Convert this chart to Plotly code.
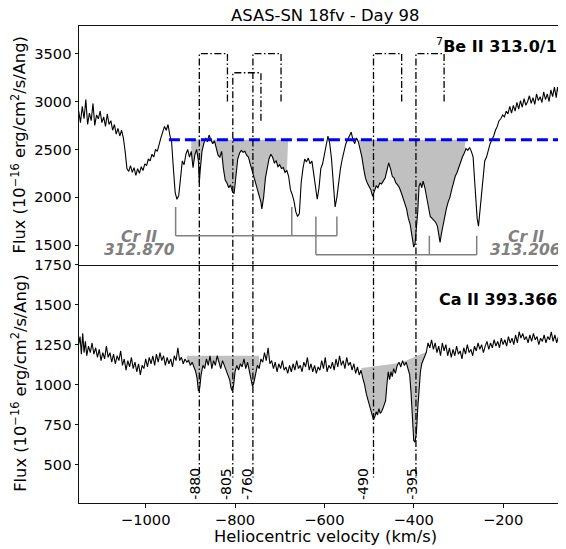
import plotly.graph_objects as go

# ---------------- data ----------------
# Be II 313.0/1 spectrum (velocity km/s, flux 1e-16 erg/cm2/s/Ang)
be_spec = [
    (-1150, 2900), (-1146, 2780), (-1142, 2950), (-1138, 2820), (-1134, 3020), (-1130, 2760),
    (-1126, 2880), (-1122, 2800), (-1118, 2980), (-1114, 2750), (-1110, 2860), (-1106, 2820),
    (-1102, 2900), (-1098, 2780), (-1094, 2840), (-1090, 2740), (-1086, 2870), (-1082, 2760),
    (-1078, 2800), (-1074, 2700), (-1070, 2760), (-1066, 2660), (-1062, 2720), (-1058, 2640),
    (-1054, 2700), (-1050, 2620), (-1046, 2480), (-1042, 2300), (-1038, 2270), (-1034, 2330),
    (-1030, 2260), (-1026, 2310), (-1022, 2230), (-1018, 2300), (-1014, 2250), (-1010, 2320),
    (-1006, 2280), (-1002, 2350), (-998, 2330), (-994, 2400), (-990, 2380), (-986, 2450),
    (-982, 2420), (-978, 2500), (-974, 2480), (-970, 2560), (-966, 2620), (-962, 2680),
    (-958, 2740), (-954, 2700), (-950, 2760), (-946, 2650), (-942, 2580), (-938, 2300),
    (-934, 2050), (-930, 1980), (-926, 2020), (-922, 2200), (-918, 2380), (-914, 2340),
    (-910, 2450), (-906, 2500), (-902, 2420), (-898, 2480), (-894, 2310), (-890, 2440),
    (-886, 2500), (-882, 2380), (-880, 2150), (-878, 2280), (-874, 2480), (-870, 2560),
    (-866, 2620), (-862, 2580), (-858, 2650), (-854, 2600), (-850, 2560), (-846, 2590),
    (-842, 2520), (-838, 2440), (-834, 2420), (-830, 2480), (-826, 2300), (-822, 2180),
    (-818, 2150), (-814, 2100), (-810, 2130), (-806, 2060), (-802, 2040), (-798, 2250),
    (-794, 2400), (-790, 2460), (-786, 2490), (-782, 2470), (-778, 2480), (-774, 2440),
    (-770, 2420), (-766, 2350), (-762, 2280), (-758, 2220), (-754, 2160), (-750, 2100),
    (-746, 2020), (-742, 1950), (-740, 1880), (-736, 2000), (-732, 2200), (-728, 2290),
    (-724, 2400), (-720, 2450), (-716, 2420), (-712, 2360), (-708, 2380), (-704, 2320),
    (-700, 2340), (-696, 2300), (-692, 2310), (-688, 2260), (-684, 2280), (-680, 2220),
    (-676, 2080), (-672, 2030), (-668, 1960), (-664, 1850), (-660, 1800), (-656, 1830),
    (-652, 2150), (-648, 2300), (-644, 2400), (-640, 2370), (-636, 2410), (-632, 2350),
    (-628, 2380), (-624, 2250), (-620, 2100), (-616, 1980), (-612, 2100), (-608, 2300),
    (-604, 2350), (-600, 2450), (-596, 2560), (-592, 2640), (-588, 2560), (-584, 2400),
    (-580, 2150), (-576, 1900), (-572, 2000), (-568, 2180), (-564, 2300), (-560, 2400),
    (-556, 2480), (-552, 2560), (-548, 2600), (-544, 2650), (-540, 2680), (-536, 2600),
    (-532, 2560), (-528, 2620), (-524, 2580), (-520, 2500), (-516, 2420), (-512, 2300),
    (-508, 2200), (-504, 2150), (-500, 2120), (-496, 2080), (-492, 2010), (-488, 2080),
    (-484, 2120), (-480, 2100), (-476, 2150), (-472, 2140), (-468, 2170), (-464, 2200),
    (-460, 2280), (-456, 2360), (-452, 2300), (-448, 2220), (-444, 2200), (-440, 2150),
    (-436, 2130), (-432, 2100), (-428, 2050), (-424, 2000), (-420, 1950), (-416, 1880),
    (-412, 1780), (-408, 1720), (-404, 1600), (-400, 1480), (-397, 1520), (-394, 1650),
    (-391, 1850), (-388, 2120), (-385, 2150), (-382, 2100), (-379, 2170), (-375, 2100),
    (-371, 2000), (-367, 1900), (-363, 1800), (-359, 1780), (-355, 1760), (-351, 1740),
    (-347, 1700), (-344, 1600), (-341, 1530), (-338, 1620), (-335, 1700), (-331, 1800),
    (-327, 1880), (-323, 1950), (-319, 2000), (-315, 2080), (-311, 2150), (-307, 2220),
    (-303, 2260), (-299, 2320), (-295, 2380), (-291, 2420), (-287, 2460), (-283, 2510),
    (-279, 2490), (-275, 2520), (-271, 2480), (-267, 2420), (-264, 2200), (-261, 1950),
    (-258, 1780), (-255, 1700), (-252, 1850), (-249, 2050), (-245, 2250), (-241, 2380),
    (-237, 2420), (-233, 2500), (-229, 2560), (-225, 2600), (-221, 2640), (-217, 2700),
    (-213, 2740), (-209, 2800), (-205, 2820), (-201, 2860), (-197, 2840), (-193, 2900),
    (-189, 2870), (-185, 2950), (-181, 2880), (-177, 2960), (-173, 2900), (-169, 2990),
    (-165, 2920), (-161, 3010), (-157, 2940), (-153, 3030), (-149, 2960), (-145, 3000),
    (-141, 3060), (-137, 2980), (-133, 3040), (-129, 2970), (-125, 3080), (-121, 3010),
    (-117, 3050), (-113, 2990), (-109, 3100), (-105, 3020), (-101, 3080), (-97, 3000),
    (-93, 3120), (-89, 3050), (-85, 3150), (-81, 3040), (-78, 3150), (-74, 3060),
    (-70, 3220), (-67, 3020), (-63, 3100), (-59, 3050), (-55, 3120),
]

# Ca II 393.366 spectrum
ca_spec = [
    (-1150, 1250), (-1147, 1300), (-1144, 1190), (-1141, 1320), (-1138, 1200), (-1135, 1270),
    (-1132, 1180), (-1128, 1240), (-1124, 1200), (-1120, 1260), (-1116, 1190), (-1112, 1230),
    (-1108, 1170), (-1104, 1220), (-1100, 1150), (-1096, 1200), (-1092, 1160), (-1088, 1240),
    (-1084, 1170), (-1080, 1200), (-1076, 1140), (-1072, 1190), (-1068, 1130), (-1064, 1180),
    (-1060, 1150), (-1056, 1210), (-1052, 1120), (-1048, 1160), (-1044, 1090), (-1040, 1150),
    (-1036, 1110), (-1032, 1170), (-1028, 1100), (-1024, 1140), (-1020, 1080), (-1016, 1130),
    (-1012, 1060), (-1008, 1120), (-1004, 1100), (-1000, 1160), (-996, 1110), (-992, 1170),
    (-988, 1130), (-984, 1180), (-980, 1120), (-976, 1190), (-972, 1140), (-968, 1200),
    (-964, 1150), (-960, 1180), (-956, 1120), (-952, 1170), (-948, 1130), (-944, 1160),
    (-940, 1110), (-936, 1180), (-932, 1150), (-928, 1230), (-924, 1150), (-920, 1170),
    (-916, 1130), (-912, 1160), (-908, 1140), (-904, 1150), (-900, 1120), (-896, 1140),
    (-892, 1110), (-888, 1080), (-885, 1040), (-882, 960), (-879, 980), (-876, 1060),
    (-872, 1120), (-868, 1100), (-864, 1160), (-860, 1120), (-856, 1180), (-852, 1100),
    (-848, 1150), (-844, 1120), (-840, 1180), (-836, 1130), (-832, 1100), (-828, 1150),
    (-824, 1120), (-820, 1090), (-816, 1060), (-812, 1030), (-809, 980), (-806, 960),
    (-803, 1000), (-800, 1080), (-796, 1120), (-792, 1090), (-788, 1130), (-784, 1110),
    (-780, 1160), (-776, 1100), (-772, 1140), (-768, 1080), (-764, 1040), (-761, 990),
    (-758, 1010), (-754, 1060), (-750, 1120), (-746, 1100), (-742, 1160), (-738, 1140),
    (-734, 1200), (-730, 1150), (-726, 1230), (-722, 1130), (-718, 1150), (-714, 1100),
    (-710, 1140), (-706, 1080), (-702, 1130), (-698, 1100), (-694, 1150), (-690, 1090),
    (-686, 1110), (-682, 1070), (-678, 1120), (-674, 1080), (-670, 1130), (-666, 1090),
    (-662, 1150), (-658, 1100), (-654, 1120), (-650, 1080), (-646, 1140), (-642, 1110),
    (-638, 1170), (-634, 1090), (-630, 1130), (-626, 1080), (-622, 1120), (-618, 1070),
    (-614, 1110), (-610, 1090), (-606, 1150), (-602, 1100), (-598, 1170), (-594, 1080),
    (-590, 1120), (-586, 1100), (-582, 1140), (-578, 1090), (-574, 1160), (-570, 1110),
    (-566, 1180), (-562, 1120), (-558, 1150), (-554, 1100), (-550, 1170), (-546, 1120),
    (-542, 1140), (-538, 1090), (-534, 1130), (-530, 1070), (-526, 1110), (-522, 1060),
    (-518, 1090), (-514, 1040), (-510, 1000), (-506, 940), (-502, 900), (-499, 860),
    (-496, 830), (-493, 800), (-490, 780), (-487, 800), (-484, 830), (-481, 810),
    (-478, 850), (-475, 820), (-472, 830), (-469, 850), (-466, 870), (-463, 900),
    (-460, 1000), (-457, 1080), (-454, 1030), (-451, 1080), (-448, 1050), (-445, 1100),
    (-441, 1070), (-437, 1120), (-433, 1140), (-429, 1110), (-425, 1150), (-421, 1120),
    (-417, 1140), (-413, 1100), (-409, 1060), (-406, 950), (-403, 780), (-400, 650),
    (-397, 640), (-394, 700), (-391, 850), (-388, 1000), (-385, 1080), (-382, 1130),
    (-379, 1150), (-376, 1180), (-372, 1200), (-368, 1260), (-364, 1230), (-360, 1280),
    (-356, 1220), (-352, 1260), (-348, 1200), (-344, 1240), (-340, 1180), (-336, 1260),
    (-332, 1210), (-328, 1250), (-324, 1180), (-320, 1230), (-316, 1170), (-312, 1220),
    (-308, 1180), (-304, 1240), (-300, 1190), (-296, 1210), (-292, 1160), (-288, 1230),
    (-284, 1190), (-280, 1250), (-276, 1200), (-272, 1220), (-268, 1180), (-264, 1240),
    (-260, 1210), (-256, 1260), (-252, 1220), (-248, 1250), (-244, 1200), (-240, 1240),
    (-236, 1270), (-232, 1220), (-228, 1260), (-224, 1230), (-220, 1280), (-216, 1240),
    (-212, 1270), (-208, 1230), (-204, 1290), (-200, 1250), (-196, 1280), (-192, 1240),
    (-188, 1300), (-184, 1260), (-180, 1290), (-176, 1250), (-172, 1310), (-168, 1260),
    (-164, 1330), (-160, 1290), (-156, 1320), (-152, 1280), (-148, 1300), (-144, 1260),
    (-140, 1310), (-136, 1270), (-132, 1320), (-128, 1280), (-124, 1300), (-120, 1250),
    (-116, 1290), (-112, 1270), (-108, 1310), (-104, 1260), (-100, 1300), (-96, 1280),
    (-92, 1330), (-88, 1270), (-84, 1310), (-80, 1260), (-76, 1300), (-72, 1250),
    (-68, 1290), (-64, 1310), (-60, 1270), (-56, 1300),
]

# absorption components (km/s)
comp_v = [-880, -805, -760, -490, -395]
comp_labels = ["-880", "-805", "-760", "-490", "-395"]
bracket_top = [3500, 3300, 3500, 3500, 3500]
bracket_leg_end = [3000, 2800, 3000, 3000, 3000]
doublet_sep = 63  # Be II 313.0/313.1 separation in km/s

# Be continuum level and absorption regions
be_cont = 2600
be_fill_ranges = [(-898, -681), (-523, -284)]
# Ca continuum pieces
ca_fill_conts = [([-908, -746], [1180, 1180]), ([-517, -430, -373], [1104, 1135, 1202])]

# Cr II markers
cr1_legs = [-933, -673, -572]
cr1_tops = [1900, 1900, 1800]
cr1_base = 1600
cr2_legs = [-619, -365, -259]
cr2_tops = [1800, 1600, 1600]
cr2_base = 1400

be_v = [p[0] for p in be_spec]
be_f = [p[1] for p in be_spec]
ca_v = [p[0] for p in ca_spec]
ca_f = [p[1] for p in ca_spec]

# ---------------- figure ----------------
FONT = "DejaVu Sans"
W, H = 566, 549
OFF = 8  # page body margin offset in the browser
# target plot area in window pixels: x 79..566, y 26..503.3
ML, MR, MT = 79 - OFF, OFF, 26 - OFF
MB = H - (503.3 - OFF)
XR = [-1149.3, -59.1]
YR1 = [1299, 3788]
YR2 = [260, 1750.3]
FILL = "#c0c0c0"
DASHDOT = "7px,2.5px,1.5px,2.5px"

fig = go.Figure()

# --- top panel fills
for lo, hi in be_fill_ranges:
    fig.add_trace(go.Scatter(x=[lo, hi], y=[be_cont, be_cont], mode="lines",
                             line=dict(width=0), xaxis="x", yaxis="y",
                             showlegend=False, hoverinfo="skip"))
    seg = [(v, f) for v, f in zip(be_v, be_f) if lo <= v <= hi]
    fig.add_trace(go.Scatter(x=[s[0] for s in seg], y=[s[1] for s in seg], mode="lines",
                             line=dict(width=0), fill="tonexty", fillcolor=FILL,
                             xaxis="x", yaxis="y", showlegend=False, hoverinfo="skip"))

# --- bottom panel fills
for cx, cy in ca_fill_conts:
    fig.add_trace(go.Scatter(x=cx, y=cy, mode="lines", line=dict(width=0),
                             xaxis="x2", yaxis="y2", showlegend=False, hoverinfo="skip"))
    seg = [(v, f) for v, f in zip(ca_v, ca_f) if cx[0] <= v <= cx[-1]]
    fig.add_trace(go.Scatter(x=[s[0] for s in seg], y=[s[1] for s in seg], mode="lines",
                             line=dict(width=0), fill="tonexty", fillcolor=FILL,
                             xaxis="x2", yaxis="y2", showlegend=False, hoverinfo="skip"))

# --- spectra
fig.add_trace(go.Scatter(x=be_v, y=be_f, mode="lines", line=dict(color="black", width=1.1),
                         xaxis="x", yaxis="y", showlegend=False))
fig.add_trace(go.Scatter(x=ca_v, y=ca_f, mode="lines", line=dict(color="black", width=1.1),
                         xaxis="x2", yaxis="y2", showlegend=False))

# --- continuum dashed line (top)
fig.add_trace(go.Scatter(x=[-948, -40], y=[be_cont, be_cont], mode="lines",
                         line=dict(color="#0000ff", width=3, dash="11px,5px"),
                         xaxis="x", yaxis="y", showlegend=False))

# --- component brackets / lines
for v, top, leg in zip(comp_v, bracket_top, bracket_leg_end):
    fig.add_trace(go.Scatter(x=[v + doublet_sep, v + doublet_sep, v, v],
                             y=[leg, top, top, YR1[0]], mode="lines",
                             line=dict(color="black", width=1.3, dash=DASHDOT),
                             xaxis="x", yaxis="y", showlegend=False))
    fig.add_trace(go.Scatter(x=[v, v], y=[YR2[1], 420], mode="lines",
                             line=dict(color="black", width=1.3, dash=DASHDOT),
                             xaxis="x2", yaxis="y2", showlegend=False))

# --- Cr II markers
for legs, tops, base in [(cr1_legs, cr1_tops, cr1_base), (cr2_legs, cr2_tops, cr2_base)]:
    fig.add_trace(go.Scatter(x=[legs[0], legs[-1]], y=[base, base], mode="lines",
                             line=dict(color="#808080", width=1.5),
                             xaxis="x", yaxis="y", showlegend=False))
    for lv, tp in zip(legs, tops):
        fig.add_trace(go.Scatter(x=[lv, lv], y=[base, tp], mode="lines",
                                 line=dict(color="#808080", width=1.5),
                                 xaxis="x", yaxis="y", showlegend=False))

# ---------------- annotations ----------------
ann = []
plot_w = W - ML - MR
plot_h = H - MT - MB


def px_x(px):  # window pixel -> paper x
    return (px - 79) / plot_w


def px_y(py):  # window pixel -> paper y
    return (503.3 - py) / plot_h


ann.append(dict(text="ASAS-SN 18fv - Day 98", x=px_x(325), y=px_y(15.5), xref="paper",
                yref="paper", showarrow=False, xanchor="center", yanchor="middle",
                font=dict(family=FONT, size=16.4, color="black")))
ann.append(dict(text="Heliocentric velocity (km/s)", x=px_x(325), y=px_y(537), xref="paper",
                yref="paper", showarrow=False, xanchor="center", yanchor="middle",
                font=dict(family=FONT, size=16.3, color="black")))
ylab = "Flux (10<sup>\u221216</sup> erg/cm<sup>2</sup>/s/Ang)"
for cy in (145.5, 384):
    ann.append(dict(text=ylab, x=px_x(19), y=px_y(cy), xref="paper", yref="paper",
                    showarrow=False, textangle=-90, xanchor="center", yanchor="middle",
                    font=dict(family=FONT, size=16.3, color="black")))
ann.append(dict(text="<sup>7</sup><b>Be II 313.0/1</b>", x=px_x(559), y=px_y(46),
                xref="paper", yref="paper", showarrow=False, xanchor="right", yanchor="middle",
                font=dict(family=FONT, size=16, color="black")))
ann.append(dict(text="<b>Ca II 393.366</b>", x=px_x(559), y=px_y(300),
                xref="paper", yref="paper", showarrow=False, xanchor="right", yanchor="middle",
                font=dict(family=FONT, size=16, color="black")))
for txt, cx, cy in [("Cr II", 139, 237), ("312.870", 139.5, 250),
                    ("Cr II", 526, 237), ("313.206", 525.5, 250)]:
    ann.append(dict(text="<b><i>%s</i></b>" % txt, x=px_x(cx), y=px_y(cy), xref="paper",
                    yref="paper", showarrow=False, xanchor="center", yanchor="middle",
                    font=dict(family=FONT, size=15.5, color="#808080")))
label_shift = [-9.6, -16.6, -14.6, -25.1, -10.6]
for v, lab, sh in zip(comp_v, comp_labels, label_shift):
    ann.append(dict(text=lab, x=v + sh, y=381, xref="x2", yref="y2", showarrow=False,
                    textangle=-90, xanchor="center", yanchor="middle",
                    font=dict(family=FONT, size=14, color="black")))

axis_common = dict(showgrid=False, zeroline=False, showline=True, linecolor="#111111",
                   linewidth=1, tickfont=dict(family=FONT, size=14.7, color="black"),
                   tickcolor="#111111", ticklen=3.5, tickwidth=1)

fig.update_layout(
    width=W, height=H,
    margin=dict(l=ML, r=MR, t=MT, b=MB, autoexpand=False),
    paper_bgcolor="white", plot_bgcolor="white",
    showlegend=False,
    xaxis=dict(**axis_common, domain=[0, 1], anchor="y", range=XR, mirror=True,
               showticklabels=False, ticks=""),
    xaxis2=dict(**axis_common, domain=[0, 1], anchor="y2", range=XR, mirror=False,
                ticks="outside", tickvals=[-1000, -800, -600, -400, -200]),
    yaxis=dict(**axis_common, domain=[0.5, 1], anchor="x", range=YR1, ticks="outside",
               tickvals=[1500, 2000, 2500, 3000, 3500]),
    yaxis2=dict(**axis_common, domain=[0, 0.5], anchor="x2", range=YR2, ticks="outside",
                tickvals=[500, 750, 1000, 1250, 1500, 1750]),
    annotations=ann,
    font=dict(family=FONT),
)

fig.write_html("out.html")
